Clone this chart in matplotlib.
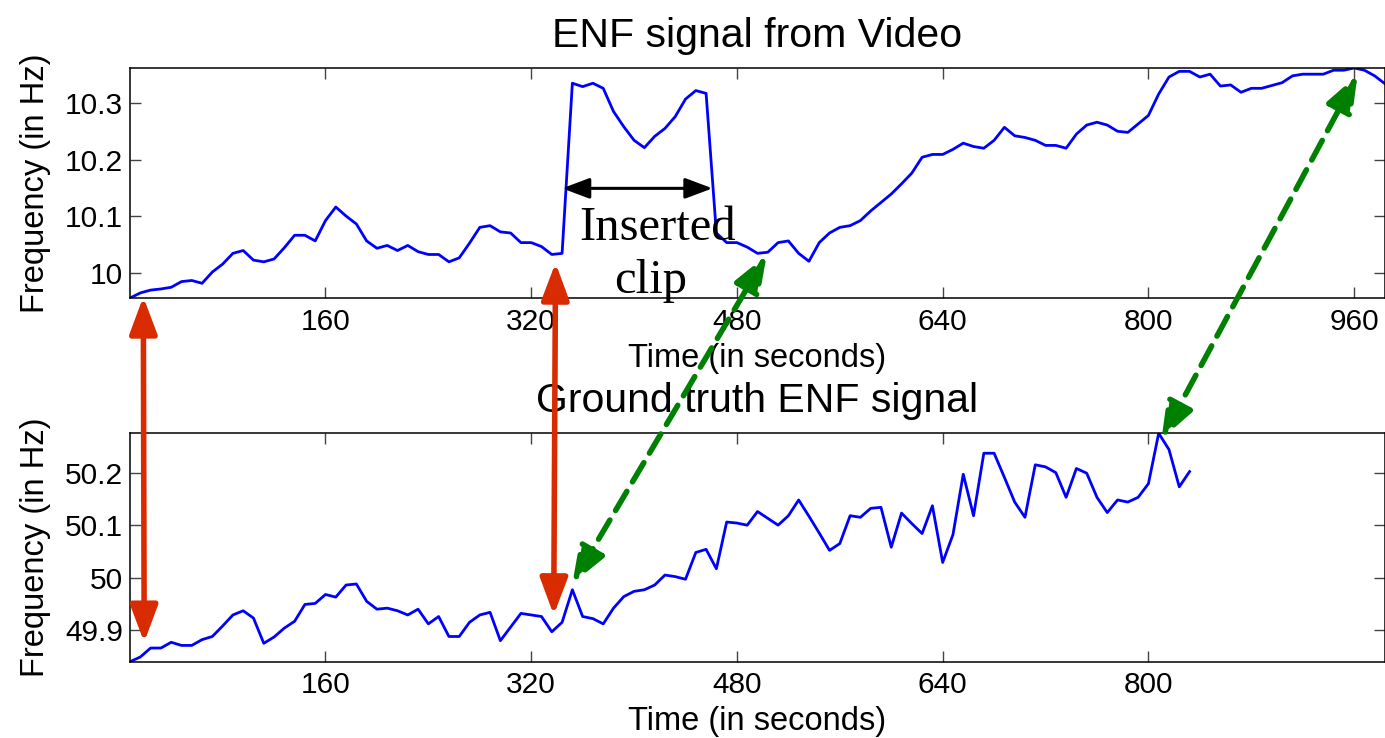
import matplotlib
matplotlib.use("Agg")
import matplotlib.pyplot as plt
import numpy as np
from matplotlib.patches import ConnectionPatch

plt.rcParams['font.family'] = ['Liberation Sans', 'DejaVu Sans']

# ENF read from the video, one value every 8 s
video_t = np.arange(8, 985, 8)
video_freq = [
    9.955, 9.964, 9.969, 9.971, 9.974, 9.984, 9.986, 9.981, 10.001, 10.015,
    10.034, 10.039, 10.022, 10.019, 10.024, 10.044, 10.066, 10.066, 10.056, 10.092,
    10.116, 10.100, 10.086, 10.056, 10.043, 10.048, 10.039, 10.048, 10.037, 10.032,
    10.032, 10.019, 10.026, 10.052, 10.080, 10.083, 10.072, 10.070, 10.053, 10.053,
    10.046, 10.032, 10.034, 10.335, 10.329, 10.335, 10.326, 10.285, 10.258, 10.234,
    10.221, 10.241, 10.255, 10.276, 10.307, 10.322, 10.317, 10.070, 10.053, 10.053,
    10.045, 10.034, 10.036, 10.053, 10.056, 10.034, 10.020, 10.053, 10.070, 10.080,
    10.083, 10.092, 10.109, 10.124, 10.139, 10.157, 10.176, 10.204, 10.209, 10.209,
    10.218, 10.229, 10.223, 10.220, 10.234, 10.257, 10.242, 10.239, 10.234, 10.225,
    10.225, 10.220, 10.245, 10.261, 10.266, 10.261, 10.250, 10.248, 10.263, 10.278,
    10.316, 10.346, 10.356, 10.356, 10.346, 10.351, 10.330, 10.332, 10.319, 10.326,
    10.326, 10.331, 10.336, 10.348, 10.351, 10.351, 10.351, 10.358, 10.358, 10.362,
    10.358, 10.348, 10.334,
]

# ground truth ENF from the power grid
grid_t = np.arange(8, 833, 8)
grid_freq = [
    49.840, 49.849, 49.866, 49.866, 49.877, 49.871, 49.871, 49.882, 49.888, 49.908,
    49.929, 49.937, 49.923, 49.875, 49.887, 49.904, 49.917, 49.949, 49.951, 49.968,
    49.963, 49.986, 49.988, 49.955, 49.940, 49.942, 49.937, 49.929, 49.940, 49.912,
    49.926, 49.888, 49.888, 49.915, 49.929, 49.934, 49.880, 49.906, 49.932, 49.929,
    49.926, 49.897, 49.915, 49.977, 49.926, 49.922, 49.912, 49.942, 49.964, 49.974,
    49.977, 49.986, 50.005, 50.002, 49.997, 50.048, 50.054, 50.017, 50.106, 50.104,
    50.100, 50.126, 50.113, 50.100, 50.118, 50.148, 50.117, 50.085, 50.052, 50.065,
    50.118, 50.115, 50.132, 50.134, 50.058, 50.123, 50.103, 50.084, 50.137, 50.029,
    50.082, 50.197, 50.118, 50.237, 50.237, 50.191, 50.144, 50.115, 50.215, 50.211,
    50.200, 50.153, 50.208, 50.199, 50.153, 50.124, 50.148, 50.144, 50.153, 50.179,
    50.275, 50.244, 50.173, 50.202,
]

top_xticks = [160, 320, 480, 640, 800, 960]
bot_xticks = [160, 320, 480, 640, 800]
top_yticks = [10.0, 10.1, 10.2, 10.3]
top_ylabels = ["10", "10.1", "10.2", "10.3"]
bot_yticks = [49.9, 50.0, 50.1, 50.2]
bot_ylabels = ["49.9", "50", "50.1", "50.2"]

fig = plt.figure(figsize=(13.85, 7.38), dpi=100)
ax1 = fig.add_axes([0.0939, 0.5962, 0.9061, 0.3117])
ax2 = fig.add_axes([0.0939, 0.1034, 0.9061, 0.3095])


def style_axis(ax, title, xt, yt, yl):
    ax.set_xlim(8, 984)
    ax.set_xticks(xt)
    ax.set_xticklabels([str(t) for t in xt])
    ax.set_yticks(yt)
    ax.set_yticklabels(yl)
    ax.tick_params(direction='in', length=8, width=1, color='#444444',
                   top=True, right=True, labelsize=21.5)
    ax.tick_params(axis='x', pad=7)
    ax.tick_params(axis='y', pad=5)
    for s in ax.spines.values():
        s.set_linewidth(1.1)
    ax.set_title(title, fontsize=29.5, pad=15)
    ax.set_xlabel("Time (in seconds)", fontsize=23.5, labelpad=5)
    ax.set_ylabel("Frequency (in Hz)", fontsize=23.5, labelpad=10)


ax1.plot(video_t, video_freq, color='#0000ff', lw=2)
ax1.set_ylim(min(video_freq), max(video_freq))
style_axis(ax1, "ENF signal from Video", top_xticks, top_yticks, top_ylabels)

ax2.plot(grid_t, grid_freq, color='#0000ff', lw=2)
ax2.set_ylim(min(grid_freq), max(grid_freq))
style_axis(ax2, "Ground truth ENF signal", bot_xticks, bot_yticks, bot_ylabels)

# inserted clip marker
ax1.annotate("", xy=(344, 10.149), xytext=(461, 10.149),
             arrowprops=dict(arrowstyle='<|-|>,head_length=1.2,head_width=0.45',
                             mutation_scale=14, color='black', lw=2.2,
                             shrinkA=0, shrinkB=0))
ax1.text(418, 10.058, "Inserted", fontsize=35, family='Liberation Serif',
         ha='center', va='baseline')
ax1.text(413, 9.964, "clip", fontsize=35, family='Liberation Serif',
         ha='center', va='baseline')

# red: start points of both signals
red = '#d92b00'
for xa, ya, xb, yb in [(18.3, 9.957, 19, 49.877), (338.9, 10.017, 337.5, 49.929)]:
    con = ConnectionPatch(xyA=(xa, ya), coordsA='data', axesA=ax1,
                          xyB=(xb, yb), coordsB='data', axesB=ax2,
                          arrowstyle='<|-|>,head_length=1.6,head_width=0.6',
                          mutation_scale=14, color=red, lw=4)
    fig.add_artist(con)

# green: matching points after the insertion
for xa, ya, xb, yb in [(503.1, 10.031, 352, 49.989), (962.7, 10.350, 810.2, 50.264)]:
    con = ConnectionPatch(xyA=(xa, ya), coordsA='data', axesA=ax1,
                          xyB=(xb, yb), coordsB='data', axesB=ax2,
                          arrowstyle='<|-|>,head_length=1.6,head_width=0.6',
                          mutation_scale=14, color='#008000', lw=4,
                          linestyle=(0, (4, 2)))
    fig.add_artist(con)

plt.savefig("out.png", dpi=100)
